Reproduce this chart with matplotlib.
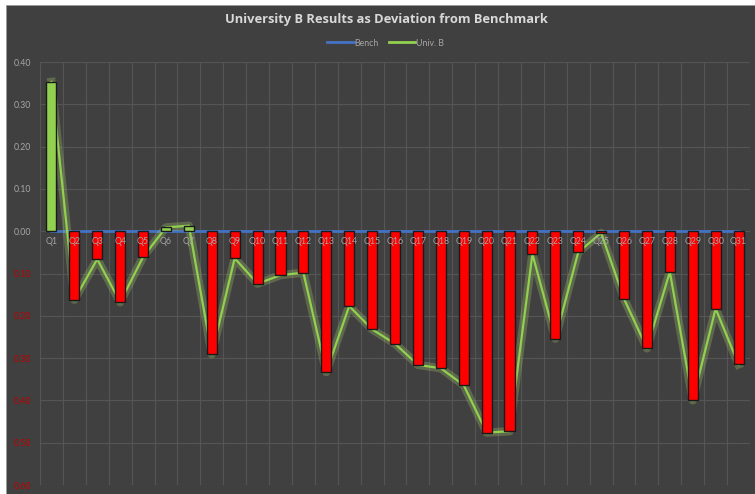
import numpy as np
import matplotlib
matplotlib.use("Agg")
import matplotlib.pyplot as plt
import matplotlib.patheffects as pe
from matplotlib.patches import Rectangle
from matplotlib.lines import Line2D

plt.rcParams["font.family"] = ["Lato", "DejaVu Sans"]

# data
questions = ["Q%d" % i for i in range(1, 32)]
univ_b = [0.353, -0.162, -0.066, -0.168, -0.061, 0.009, 0.013, -0.291, -0.064, -0.124,
          -0.104, -0.098, -0.333, -0.177, -0.232, -0.266, -0.316, -0.324, -0.364, -0.476,
          -0.473, -0.054, -0.254, -0.050, -0.004, -0.160, -0.277, -0.096, -0.400, -0.183,
          -0.315]
bench = [0.0] * len(questions)
y_ticks = [0.4, 0.3, 0.2, 0.1, 0.0, -0.1, -0.2, -0.3, -0.4, -0.5, -0.6]

BG = "#404040"
GRID = "#555555"
GREEN = "#92D050"
RED = "#FF0000"
BLUE = "#4472C4"
TXT = "#A6A6A6"
NEG = "#C00000"

fig = plt.figure(figsize=(7.55, 4.94), dpi=100, facecolor="white")
fig.patches.append(Rectangle((6 / 755, 0), 1, 489 / 494, transform=fig.transFigure,
                             facecolor=BG, edgecolor="#9a9a9a", linewidth=0.6, zorder=-5))

ax = fig.add_axes([40 / 755, 1 - 485 / 494, 710 / 755, 423 / 494])
ax.set_facecolor(BG)

x = np.arange(len(questions))
ax.set_xlim(-0.5, len(questions) - 0.5)
ax.set_ylim(-0.6, 0.4)

# grid
for yt in y_ticks:
    ax.axhline(yt, color=GRID, linewidth=0.8, zorder=1)
for b in np.arange(-0.5, len(questions) + 0.5):
    ax.axvline(b, color=GRID, linewidth=0.8, zorder=1)

# bench line (zero)
ax.plot(x, bench, color=BLUE, linewidth=2, zorder=2)
# actual line with soft glow, behind the bars
ax.plot(x, univ_b, color=GREEN, linewidth=1.6, zorder=3,
        path_effects=[pe.Stroke(linewidth=6, foreground="#B8E070", alpha=0.25), pe.Normal()])

colors = [GREEN if v >= 0 else RED for v in univ_b]
ax.bar(x, univ_b, width=0.44, color=colors, edgecolor="#1a1a1a", linewidth=1.0, zorder=4)

# axes styling
for s in ax.spines.values():
    s.set_visible(False)
ax.spines["bottom"].set_position(("data", 0))
ax.xaxis.set_zorder(10)
ax.set_xticks(x)
ax.set_xticklabels(questions, fontsize=6.3, color=TXT)
ax.tick_params(axis="x", length=0, pad=4)
ax.set_yticks(y_ticks)
ax.set_yticklabels(["%.2f" % abs(v) for v in y_ticks], fontsize=6.3)
for lab, v in zip(ax.get_yticklabels(), y_ticks):
    lab.set_color(NEG if v < 0 else TXT)
    lab.set_horizontalalignment("left")
ax.tick_params(axis="y", length=0, pad=19)

fig.text(386 / 755, 1 - 20 / 494, "University B Results as Deviation from Benchmark",
         ha="center", va="center", fontsize=9.3, fontweight="bold", color="#D9D9D9",
         family=["Open Sans", "DejaVu Sans"])

handles = [Line2D([], [], color=BLUE, linewidth=2), Line2D([], [], color=GREEN, linewidth=2)]
fig.legend(handles, ["Bench", "Univ. B"], loc="center", bbox_to_anchor=(0.511, 1 - 43 / 494),
           ncol=2, frameon=False, fontsize=6.3, labelcolor=TXT, handlelength=3.0,
           handletextpad=0.1, columnspacing=1.2)

fig.savefig("out.png", dpi=100, facecolor="white")
